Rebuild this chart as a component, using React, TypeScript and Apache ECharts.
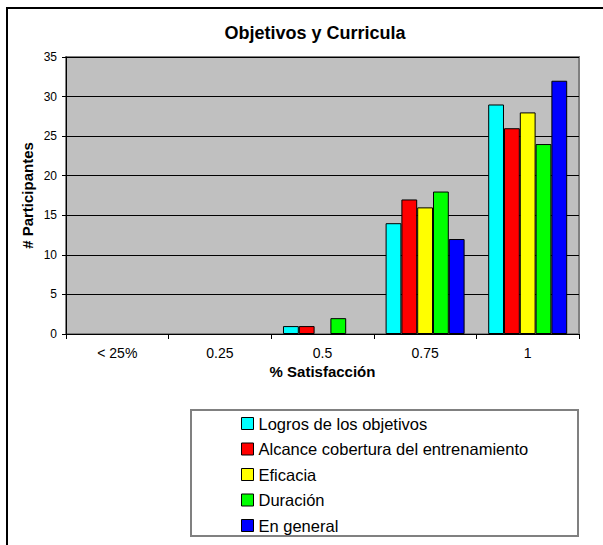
import React, { useEffect, useRef } from "react";
import * as echarts from "echarts";

const categories = ["< 25%", "0.25", "0.5", "0.75", "1"];
const seriesNames = [
  "Logros de los objetivos",
  "Alcance cobertura del entrenamiento",
  "Eficacia",
  "Duración",
  "En general",
];
const logros = [0, 0, 1, 14, 29];
const alcance = [0, 0, 1, 17, 26];
const eficacia = [0, 0, 0, 16, 28];
const duracion = [0, 0, 2, 18, 24];
const general = [0, 0, 0, 12, 32];
const colors = ["#00FFFF", "#FF0000", "#FFFF00", "#00FF00", "#0000FF"];

export default function App() {
  const ref = useRef<HTMLDivElement>(null);
  useEffect(() => {
    document.body.style.margin = "0";
    const chart = echarts.init(ref.current!, undefined, { renderer: "svg" });
    const values = [logros, alcance, eficacia, duracion, general];
    const font = "'Liberation Sans', Arial, sans-serif";
    chart.setOption({
      animation: false,
      textStyle: { fontFamily: font },
      title: {
        text: "Objetivos y Curricula",
        left: 310,
        top: 19,
        textAlign: "center",
        textStyle: { fontFamily: font, fontSize: 18, fontWeight: "bold", color: "#000" },
      },
      graphic: [
        {
          type: "rect",
          shape: { x: 7, y: 8, width: 640, height: 600 },
          style: { fill: "none", stroke: "#000", lineWidth: 2 },
          silent: true,
        },
        {
          type: "rect",
          shape: { x: 191, y: 410, width: 387, height: 126 },
          style: { fill: "none", stroke: "#808080", lineWidth: 2 },
          silent: true,
        },
      ],
      grid: {
        left: 66,
        top: 57,
        width: 513,
        height: 277,
        show: true,
        backgroundColor: "#C0C0C0",
        borderColor: "#808080",
        borderWidth: 2,
      },
      legend: {
        orient: "vertical",
        left: 241,
        top: 415,
        padding: 0,
        height: 125,
        itemWidth: 12,
        itemHeight: 12,
        itemGap: 8.5,
        icon: "rect",
        itemStyle: { borderColor: "#000", borderWidth: 1 },
        textStyle: { fontFamily: font, fontSize: 16.5, color: "#000", lineHeight: 16 },
        data: seriesNames,
      },
      xAxis: {
        type: "category",
        data: categories,
        name: "% Satisfacción",
        nameLocation: "middle",
        nameGap: 30.5,
        nameMoveOverlap: false,
        nameTextStyle: { fontFamily: font, fontSize: 15, fontWeight: "bold", color: "#000", lineHeight: 13 },
        axisLine: { lineStyle: { color: "#000", width: 1 } },
        axisTick: { show: true, length: 5, lineStyle: { color: "#000" } },
        axisLabel: { fontFamily: font, fontSize: 14, color: "#000", margin: 12.5, lineHeight: 12 },
      },
      yAxis: {
        type: "value",
        min: 0,
        max: 35,
        interval: 5,
        name: "# Participantes",
        nameLocation: "middle",
        nameGap: 31,
        nameMoveOverlap: false,
        nameTextStyle: { fontFamily: font, fontSize: 15, fontWeight: "bold", color: "#000" },
        axisLine: { show: true, lineStyle: { color: "#000", width: 1 } },
        axisTick: { show: true, length: 4, lineStyle: { color: "#000" } },
        axisLabel: { fontFamily: font, fontSize: 12, color: "#000", margin: 9 },
        splitLine: { show: true, lineStyle: { color: "#000", width: 1 } },
      },
      series: seriesNames.map((name, i) => ({
        name,
        type: "bar",
        data: values[i].map((v) =>
          v === 0 ? { value: v, itemStyle: { borderWidth: 0 } } : v
        ),
        barGap: "0%",
        barCategoryGap: "23%",
        itemStyle: { color: colors[i], borderColor: "#000", borderWidth: 1 },
      })),
    });
    return () => chart.dispose();
  }, []);
  return <div ref={ref} style={{ width: 603, height: 545 }} />;
}
